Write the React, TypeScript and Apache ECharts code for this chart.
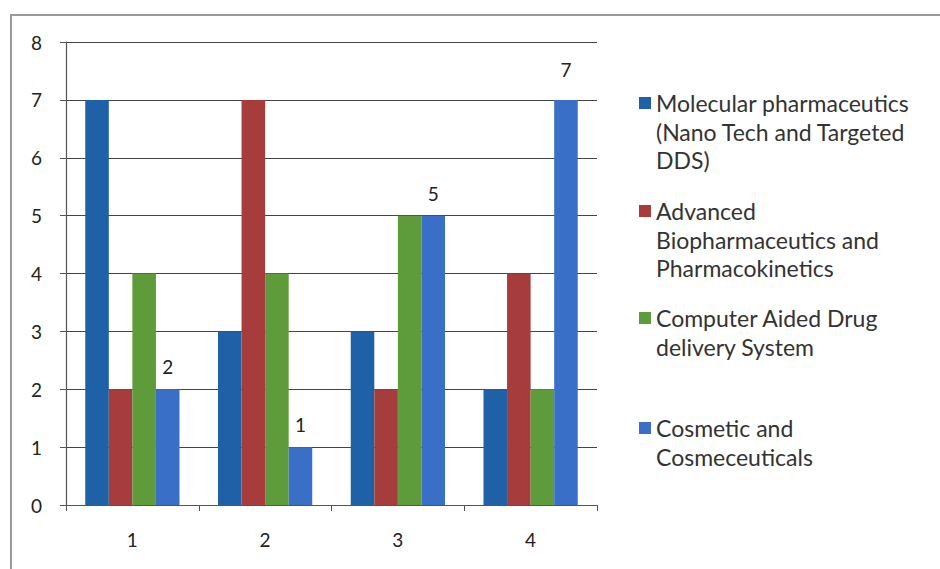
import React, { useEffect, useRef } from "react";
import * as echarts from "echarts";

const categories = ["1", "2", "3", "4"];
const seriesNames = [
  "Molecular pharmaceutics\n(Nano Tech and Targeted\nDDS)",
  "Advanced\nBiopharmaceutics and\nPharmacokinetics",
  "Computer Aided Drug\ndelivery System",
  "Cosmetic and\nCosmeceuticals",
];
const molecular = [7, 3, 3, 2];
const advanced = [2, 7, 2, 4];
const computerAided = [4, 4, 5, 2];
const cosmetic = [2, 1, 5, 7];
const yTicks = [0, 1, 2, 3, 4, 5, 6, 7, 8];

const colors = ["#1f61a6", "#a63c3b", "#5e9c3b", "#3a6fc8"];
const FONT = "Lato";

export default function App() {
  const ref = useRef<HTMLDivElement>(null);
  useEffect(() => {
    if (!ref.current) return;
    const chart = echarts.init(ref.current, null, { renderer: "svg" });
    const values = [molecular, advanced, computerAided, cosmetic];
    const LH = 28.5;
    const firstLineCenters = [103, 211, 318, 428];
    const ICON = 12;
    const legends = seriesNames.map((name, i) => {
      const n = name.split("\n").length;
      // tall invisible icon box so the square sits at the first text line
      const H = 2 * (ICON / 2 + ((n - 1) * LH) / 2);
      const iconPath =
        n > 1
          ? `path://M0,0L${ICON},0L${ICON},${ICON}L0,${ICON}Z M0,${H}L0.01,${H}L0,${H}Z`
          : "rect";
      return {
        data: [name],
        orient: "vertical",
        left: 639,
        top: firstLineCenters[i] - LH / 2,
        padding: 0,
        itemWidth: ICON,
        itemHeight: n > 1 ? H : ICON,
        icon: iconPath,
        selectedMode: false,
        textStyle: {
          fontSize: 23,
          color: "#333",
          fontFamily: FONT,
          lineHeight: LH,
        },
      };
    });
    const maxVal = Math.max(...cosmetic);
    chart.setOption({
      animation: false,
      backgroundColor: "#ffffff",
      textStyle: { fontFamily: FONT },
      grid: { left: 66, right: 343, top: 42, bottom: 64, containLabel: false },
      xAxis: {
        type: "category",
        data: categories,
        axisLine: { show: true, lineStyle: { color: "#555", width: 1.2 } },
        axisTick: { show: true, length: 6, lineStyle: { color: "#555" } },
        axisLabel: { fontSize: 19, color: "#222", margin: 25, fontFamily: FONT },
        splitLine: { show: false },
      },
      yAxis: {
        type: "value",
        min: yTicks[0],
        max: yTicks[yTicks.length - 1],
        interval: 1,
        axisLine: { show: true, lineStyle: { color: "#555", width: 1.2 } },
        axisTick: { show: true, length: 6, lineStyle: { color: "#555" } },
        axisLabel: { fontSize: 19, color: "#222", margin: 24, fontFamily: FONT },
        splitLine: { show: true, lineStyle: { color: "#444", width: 1.2 } },
      },
      legend: legends,
      series: values.map((v, i) => ({
        name: seriesNames[i],
        type: "bar",
        data:
          i === 3
            ? v.map((val) =>
                val === maxVal ? { value: val, label: { distance: 21 } } : val
              )
            : v,
        barGap: "0%",
        barCategoryGap: "29%",
        itemStyle: { color: colors[i] },
        label:
          i === 3
            ? {
                show: true,
                position: "top",
                distance: 13,
                fontSize: 19,
                color: "#222",
                fontFamily: FONT,
              }
            : { show: false },
      })),
      graphic: [
        {
          type: "polyline",
          shape: { points: [[11, 569], [11, 15], [940, 15]] },
          style: { stroke: "#9a9a9a", lineWidth: 2, fill: "none" },
          silent: true,
        },
      ],
    });
    return () => chart.dispose();
  }, []);
  return (
    <div
      ref={ref}
      style={{ position: "absolute", left: 0, top: 0, width: 940, height: 569 }}
    />
  );
}
